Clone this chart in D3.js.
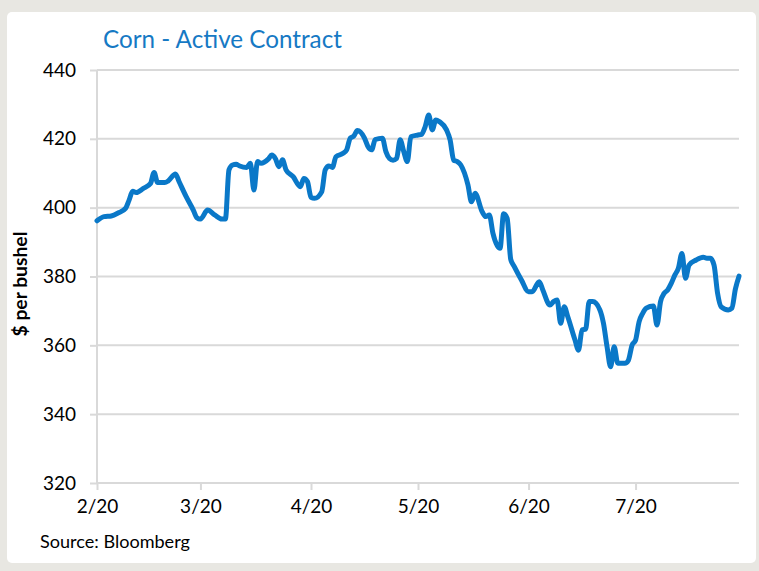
<!DOCTYPE html>
<html>
<head>
<meta charset="utf-8">
<script src="https://cdn.jsdelivr.net/npm/d3@7"></script>
<style>
  html, body { margin: 0; padding: 0; background: #e8e7e2; }
  svg { display: block; }
  text { font-family: Lato, "Open Sans", sans-serif; }
</style>
</head>
<body>
<svg id="chart" width="759" height="571"></svg>
<script>
// ---- data ----
const dates = [
  "2020-02-01","2020-02-03","2020-02-05","2020-02-07","2020-02-09","2020-02-10","2020-02-11","2020-02-12",
  "2020-02-14","2020-02-16","2020-02-17","2020-02-18","2020-02-20","2020-02-21","2020-02-23","2020-02-24",
  "2020-02-26","2020-02-28","2020-02-29","2020-03-01","2020-03-03","2020-03-05","2020-03-07","2020-03-08",
  "2020-03-09","2020-03-10","2020-03-11","2020-03-12","2020-03-14","2020-03-15","2020-03-16","2020-03-17",
  "2020-03-18","2020-03-20","2020-03-21","2020-03-22","2020-03-23","2020-03-24","2020-03-25","2020-03-27",
  "2020-03-29","2020-03-30","2020-03-31","2020-04-01","2020-04-02","2020-04-04","2020-04-05","2020-04-06",
  "2020-04-07","2020-04-08","2020-04-10","2020-04-11","2020-04-12","2020-04-13","2020-04-14","2020-04-16",
  "2020-04-17","2020-04-18","2020-04-19","2020-04-21","2020-04-22","2020-04-23","2020-04-24","2020-04-25",
  "2020-04-26","2020-04-27","2020-04-28","2020-04-29","2020-05-01","2020-05-02","2020-05-03","2020-05-04",
  "2020-05-05","2020-05-06","2020-05-07","2020-05-09","2020-05-10","2020-05-11","2020-05-12","2020-05-13",
  "2020-05-15","2020-05-16","2020-05-17","2020-05-19","2020-05-20","2020-05-21","2020-05-22","2020-05-24",
  "2020-05-25","2020-05-26","2020-05-27","2020-05-28","2020-05-30","2020-06-01","2020-06-02","2020-06-04",
  "2020-06-05","2020-06-07","2020-06-08","2020-06-09","2020-06-10","2020-06-11","2020-06-12","2020-06-14",
  "2020-06-15","2020-06-16","2020-06-17","2020-06-18","2020-06-19","2020-06-21","2020-06-22","2020-06-23",
  "2020-06-24","2020-06-25","2020-06-26","2020-06-28","2020-06-29","2020-06-30","2020-07-01","2020-07-02",
  "2020-07-03","2020-07-04","2020-07-06","2020-07-07","2020-07-08","2020-07-09","2020-07-10","2020-07-11",
  "2020-07-12","2020-07-13","2020-07-14","2020-07-15","2020-07-16","2020-07-18","2020-07-20","2020-07-21",
  "2020-07-22","2020-07-23","2020-07-24","2020-07-25","2020-07-27","2020-07-28","2020-07-29","2020-07-30"
];
const prices = [
  396.2,397.4,397.6,398.5,399.8,402.2,404.8,404.4,
  405.6,407.0,410.2,407.3,407.3,407.8,409.8,407.6,
  403.2,399.3,397.1,396.7,399.3,397.9,396.7,396.7,
  411.0,412.4,412.6,412.1,411.7,412.9,405.1,413.4,
  412.9,414.1,415.3,414.3,411.9,413.9,411.0,409.0,
  406.1,408.5,407.6,403.0,402.7,404.6,411.0,412.1,
  411.7,414.8,415.8,416.8,420.2,420.8,422.4,420.2,
  417.7,416.8,419.8,420.2,416.3,414.3,413.8,414.3,
  419.7,416.3,413.4,420.6,421.1,421.3,423.5,426.9,
  422.6,425.5,425.0,422.6,419.7,413.8,413.4,412.4,
  406.6,401.7,404.2,398.8,397.4,397.9,392.6,388.2,
  398.2,396.9,385.0,382.9,379.0,375.6,375.6,378.5,
  376.1,371.7,372.7,373.2,366.4,371.2,368.3,361.6,
  358.6,364.5,364.7,372.7,372.7,370.3,366.4,359.6,
  353.8,359.6,354.8,354.8,355.7,360.0,361.5,366.9,
  369.3,370.8,371.4,365.9,372.7,375.1,376.1,378.0,
  380.4,382.4,386.7,379.5,383.3,384.8,385.6,385.3,
  385.3,383.3,375.1,371.2,370.3,370.8,376.4,380.1
];
const yTicks = [320, 340, 360, 380, 400, 420, 440];
const xTickDates = ["2020-02-01","2020-03-01","2020-04-01","2020-05-01","2020-06-01","2020-07-01"];
const xDomain = ["2020-02-01","2020-07-30"];
const titleText = "Corn - Active Contract";
const yLabelText = "$ per bushel";
const sourceText = "Source: Bloomberg";

// ---- drawing ----
(function () {
const parse = d3.utcParse("%Y-%m-%d");
const data = dates.map((d, i) => ({ date: parse(d), value: prices[i] }));

const svg = d3.select("#chart");
const W = 759, H = 571;
const mLeft = 97, mRight = 739, mTop = 70, mBottom = 483;
const gridColor = "#d9d9d9";
const lineColor = "#0a78c8";

// panel
svg.append("rect").attr("x", 0).attr("y", 0).attr("width", W).attr("height", H).attr("fill", "#e8e7e2");
svg.append("rect").attr("x", 7).attr("y", 12).attr("width", 749).attr("height", 551)
  .attr("rx", 5).attr("fill", "#ffffff");

const x = d3.scaleUtc().domain(xDomain.map(parse)).range([mLeft, mRight]);
const y = d3.scaleLinear().domain([320, 440]).range([mBottom, mTop]);

function fitText(sel, targetWidth) {
  const node = sel.node();
  const w = node.getComputedTextLength();
  const fs = parseFloat(sel.attr("font-size"));
  if (w > 0) sel.attr("font-size", (fs * targetWidth / w).toFixed(2));
}

// y axis ticks & labels
const yAxis = d3.axisLeft(y).tickValues(yTicks).tickSize(7).tickPadding(14).tickFormat(d3.format("d"));
const yg = svg.append("g").attr("transform", `translate(${mLeft},0)`).call(yAxis);
yg.select(".domain").remove();
yg.selectAll(".tick line").attr("stroke", gridColor).attr("stroke-width", 2);
yg.selectAll(".tick text").attr("font-size", 19).attr("fill", "#000").attr("font-family", "Lato");

// horizontal gridlines
svg.append("g").selectAll("line").data(yTicks).join("line")
  .attr("x1", mLeft).attr("x2", mRight)
  .attr("y1", d => y(d)).attr("y2", d => y(d))
  .attr("stroke", gridColor).attr("stroke-width", 2);

// vertical y axis line
svg.append("line").attr("x1", mLeft).attr("x2", mLeft).attr("y1", mTop).attr("y2", mBottom)
  .attr("stroke", gridColor).attr("stroke-width", 2);

// x axis
const xAxis = d3.axisBottom(x).tickValues(xTickDates.map(parse)).tickSize(7).tickPadding(10)
  .tickFormat(d3.utcFormat("%-m/%y"));
const xg = svg.append("g").attr("transform", `translate(0,${mBottom})`).call(xAxis);
xg.select(".domain").remove();
xg.selectAll(".tick line").attr("stroke", gridColor).attr("stroke-width", 2);
xg.selectAll(".tick text").attr("font-size", 19).attr("fill", "#000").attr("font-family", "Lato");

// line
const line = d3.line().x(d => x(d.date)).y(d => y(d.value)).curve(d3.curveMonotoneX);
svg.append("path").datum(data).attr("d", line)
  .attr("fill", "none").attr("stroke", lineColor).attr("stroke-width", 5)
  .attr("stroke-linejoin", "round").attr("stroke-linecap", "round");

// title
const title = svg.append("text").attr("x", 103).attr("y", 48).attr("font-size", 24)
  .attr("fill", "#1679c4").text(titleText);
fitText(title, 239);

// y label
const yl = svg.append("text").attr("transform", "translate(27,284) rotate(-90)")
  .attr("text-anchor", "middle").attr("font-size", 17).attr("font-weight", "bold")
  .attr("fill", "#000").text(yLabelText);
fitText(yl, 105);

// source
const src = svg.append("text").attr("x", 40).attr("y", 548).attr("font-size", 16)
  .attr("fill", "#000").text(sourceText);
fitText(src, 150);
})();
</script>
</body>
</html>
